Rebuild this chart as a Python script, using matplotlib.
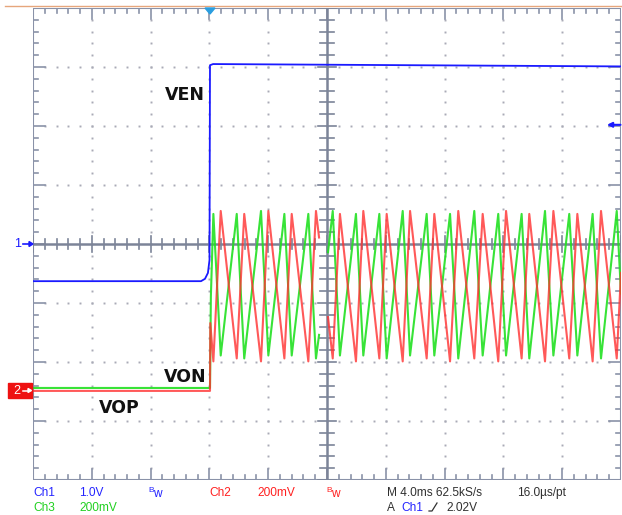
import numpy as np
import matplotlib
matplotlib.use("Agg")
import matplotlib.pyplot as plt
from matplotlib.lines import Line2D
from matplotlib.patches import Rectangle, Polygon

# ---------------- data (time in ms, trigger at 0; 4 ms/div, screen -12..28 ms) --------
# Ch1 : VEN  (1.0 V/div, ground at screen centre)
ven_t = [-12.0, -0.57, -0.30, -0.10, 0.007, 0.04, 0.25, 14.0, 28.0]
ven_v = [-0.63, -0.63, -0.59, -0.49, -0.27, 3.03, 3.05, 3.03, 3.01]

# Ch2 (red, VOP) and Ch3 (green, VON), 200 mV/div, ground marker "2"
# start-up segment
red_start_t = [-12.0, 0.04, 0.06]
red_start_v = [0.0, 0.0, 0.23]
green_start_t = [-12.0, 0.04, 0.10]
green_start_v = [0.01, 0.01, 0.32]

# turning-point times
red_peak_t = [0.77, 2.37, 4.01, 5.60, 7.25, 8.88, 10.47, 12.06, 13.65, 15.30,
              16.93, 18.59, 20.18, 21.76, 23.40, 25.03, 26.64]
green_peak_t = [0.27, 1.86, 3.51, 5.10, 6.73, 8.39, 9.97, 11.56, 13.15, 14.78,
                16.37, 18.02, 19.65, 21.24, 22.83, 24.48, 26.07, 27.71]

# levels at those turning points (V)
red_high = [0.61, 0.60, 0.61, 0.60, 0.61, 0.60, 0.61, 0.60, 0.61, 0.60,
            0.61, 0.60, 0.61, 0.60, 0.61, 0.60, 0.61]
red_low = [0.10, 0.11, 0.10, 0.11, 0.10, 0.11, 0.10, 0.11, 0.10, 0.11,
           0.10, 0.11, 0.10, 0.11, 0.10, 0.11, 0.10, 0.11]
green_high = [0.60, 0.60, 0.61, 0.60, 0.60, 0.61, 0.60, 0.60, 0.61, 0.60,
              0.60, 0.61, 0.60, 0.60, 0.61, 0.60, 0.60, 0.61]
green_low = [0.12, 0.11, 0.12, 0.12, 0.11, 0.12, 0.12, 0.11, 0.12, 0.12,
             0.11, 0.12, 0.12, 0.11, 0.12, 0.12, 0.11]
red_end = (28.0, 0.40)
green_end = (28.0, 0.33)

# display gap in the record near screen centre (ms) and trace levels at its edges (V)
gap_t = [7.46, 8.07]
red_gap_v = [0.52, 0.25]
green_gap_v = [0.19, 0.47]

TRIG_LEVEL = 2.02          # V on Ch1
CH1_SCALE = 1.0            # V/div
CH2_SCALE = 0.2
CH3_SCALE = 0.2
CH2_OFFSET = -2.49         # div
CH3_OFFSET = -2.49

bottom_line1 = [("Ch1", 33, "#2424ff"), ("1.0V", 79, "#2424ff"),
                ("Ch2", 209, "#ff2020"), ("200mV", 257, "#ff2020"),
                ("M 4.0ms 62.5kS/s", 387, "#303030"), ("16.0\u00b5s/pt", 517, "#303030")]
bottom_line2 = [("Ch3", 33, "#20d020"), ("200mV", 79, "#20d020"),
                ("A", 387, "#303030"), ("Ch1", 401, "#2424ff"), ("2.02V", 446, "#303030")]

# ---------------- build series -------------------------------------------------------
red_t = list(red_start_t)
red_v = list(red_start_v)
green_t = list(green_start_t)
green_v = list(green_start_v)
for i in range(len(green_peak_t)):
    red_t.append(green_peak_t[i]); red_v.append(red_low[i])
    green_t.append(green_peak_t[i]); green_v.append(green_high[i])
    if i < len(red_peak_t):
        red_t.append(red_peak_t[i]); red_v.append(red_high[i])
        green_t.append(red_peak_t[i]); green_v.append(green_low[i])
red_t.append(red_end[0]); red_v.append(red_end[1])
green_t.append(green_end[0]); green_v.append(green_end[1])


def with_gap(ts, vs, gv):
    out_t, out_v = [], []
    inserted = False
    for t, v in zip(ts, vs):
        if not inserted and t > gap_t[0]:
            out_t += [gap_t[0], np.nan, gap_t[1]]
            out_v += [gv[0], np.nan, gv[1]]
            inserted = True
        out_t.append(t); out_v.append(v)
    return np.array(out_t), np.array(out_v)


red_t, red_v = with_gap(red_t, red_v, red_gap_v)
green_t, green_v = with_gap(green_t, green_v, green_gap_v)

red_div = red_v / CH2_SCALE + CH2_OFFSET
green_div = green_v / CH3_SCALE + CH3_OFFSET
ven_div = np.array(ven_v) / CH1_SCALE

# ---------------- figure -------------------------------------------------------------
W, H = 622, 515
fig = plt.figure(figsize=(W / 100, H / 100), dpi=100)
fig.patch.set_facecolor("white")
L, R, T, B = 33, 621, 8, 480
ax = fig.add_axes([L / W, (H - B) / H, (R - L) / W, (B - T) / H])
ax.set_xlim(-12, 28)
ax.set_ylim(-4, 4)
ax.axis("off")

pxx = 40.0 / (R - L)     # ms per pixel
pxy = 8.0 / (B - T)      # div per pixel

grid_col = "#8a92a8"
dot_col = "#a9aab6"

# dotted graticule
minor_x = np.arange(-12, 28.001, 0.8)
minor_y = np.arange(-4, 4.001, 0.2)
for k in range(1, 10):
    if k == 5:
        continue
    xg = -12 + 4 * k
    ys = minor_y[(minor_y > -3.95) & (minor_y < 3.95)]
    ax.plot(np.full_like(ys, xg), ys, ls="none", marker="s", ms=1.4,
            mec="none", mfc=dot_col, zorder=1)
for k in range(-3, 4):
    if k == 0:
        continue
    xs = minor_x[(minor_x > -11.9) & (minor_x < 27.9)]
    ax.plot(xs, np.full_like(xs, k), ls="none", marker="s", ms=1.4,
            mec="none", mfc=dot_col, zorder=1)

# border
ax.plot([-12, 28, 28, -12, -12], [-4, -4, 4, 4, -4], color=grid_col, lw=1.5,
        zorder=2, solid_joinstyle="miter")
# border ticks
for xv in minor_x:
    major = abs((xv + 12) / 4 - round((xv + 12) / 4)) < 1e-6
    ln = (11 if major else 5) * pxy
    ax.plot([xv, xv], [4, 4 - ln], color=grid_col, lw=1.2, zorder=2)
    ax.plot([xv, xv], [-4, -4 + ln], color=grid_col, lw=1.2, zorder=2)
for yv in minor_y:
    major = abs(yv - round(yv)) < 1e-6
    ln = (12 if major else 5) * pxx
    ax.plot([-12, -12 + ln], [yv, yv], color=grid_col, lw=1.2, zorder=2)
    ax.plot([28, 28 - ln], [yv, yv], color=grid_col, lw=1.2, zorder=2)

# centre cross-hair
cross_col = "#7c8498"
ax.plot([-12, 28], [0, 0], color=cross_col, lw=1.8, zorder=2)
ax.plot([8, 8], [-4, 4], color=cross_col, lw=1.8, zorder=2)
for xv in minor_x:
    major = abs((xv + 12) / 4 - round((xv + 12) / 4)) < 1e-6
    ln = (8 if major else 5) * pxy
    ax.plot([xv, xv], [-ln, ln], color=cross_col, lw=1.2, zorder=2)
for yv in minor_y:
    major = abs(yv - round(yv)) < 1e-6
    ln = (9 if major else 7) * pxx
    ax.plot([8 - ln, 8 + ln], [yv, yv], color=cross_col, lw=1.2, zorder=2)

# traces
ax.plot(green_t, green_div, color="#22e022", lw=1.5, zorder=4, alpha=0.9)
ax.plot(red_t, red_div, color="#ff3030", lw=1.5, zorder=5, alpha=0.8)
ax.plot(ven_t, ven_div, color="#1a1aff", lw=1.3, zorder=6)

# labels
ax.text(-1.65, (244 - 95) / 59.0, "VEN", fontsize=12.5, fontweight="bold",
        ha="center", va="center", color="#111111", zorder=7)
ax.text(-1.65, (244 - 377) / 59.0, "VON", fontsize=12.5, fontweight="bold",
        ha="center", va="center", color="#111111", zorder=7)
ax.text(-6.10, (244 - 408) / 59.0, "VOP", fontsize=12.5, fontweight="bold",
        ha="center", va="center", color="#111111", zorder=7)

# trigger level arrow on the right
ax.annotate("", xy=(28 - 14 * pxx, TRIG_LEVEL / CH1_SCALE),
            xytext=(28 - 0.5 * pxx, TRIG_LEVEL / CH1_SCALE),
            arrowprops=dict(arrowstyle="-|>", color="#1a1aff", lw=1.5,
                            mutation_scale=7, shrinkA=0, shrinkB=0), zorder=7)

# ---------------- screen furniture in pixel coordinates ------------------------------
def fx(x):
    return x / W


def fy(y):
    return 1 - y / H


fig.add_artist(Line2D([fx(5), fx(622)], [fy(6), fy(6)], color="#e6a67c", lw=1.0))
# trigger position marker
fig.add_artist(Polygon([[fx(205), fy(8)], [fx(215), fy(8)], [fx(210), fy(14)]],
                       closed=True, color="#2a9ee0", zorder=10))
# channel 1 ground marker
fig.text(fx(17.5), fy(244), "1", color="#1a1aff", fontsize=9, ha="center", va="center",
         family="Liberation Sans")
fig.add_artist(Line2D([fx(23), fx(30)], [fy(244), fy(244)], color="#1a1aff", lw=1.2))
fig.add_artist(Polygon([[fx(29), fy(241.5)], [fx(33), fy(244)], [fx(29), fy(246.5)]],
                       closed=True, color="#1a1aff"))
# channel 2 ground marker
fig.add_artist(Rectangle((fx(8), fy(398)), fx(32) - fx(8), fy(383) - fy(398),
                         color="#ee1111", zorder=10))
fig.text(fx(17), fy(390.5), "2", color="white", fontsize=9, ha="center", va="center",
         family="Liberation Sans", zorder=11)
fig.add_artist(Line2D([fx(22.5), fx(29)], [fy(390.5), fy(390.5)], color="white",
                      lw=1.1, zorder=11))
fig.add_artist(Polygon([[fx(28), fy(388.5)], [fx(31.5), fy(390.5)], [fx(28), fy(392.5)]],
                       closed=True, color="white", zorder=11))

# bottom status text
for s, x, c in bottom_line1:
    fig.text(fx(x), fy(493), s, color=c, fontsize=8.6, ha="left", va="center",
             family="Liberation Sans")
for s, x, c in bottom_line2:
    fig.text(fx(x), fy(508), s, color=c, fontsize=8.6, ha="left", va="center",
             family="Liberation Sans")
for x, c in [(148, "#2424ff"), (326, "#ff2020")]:
    fig.text(fx(x), fy(490), "B", color=c, fontsize=6, ha="left", va="center",
             family="Liberation Sans")
    fig.text(fx(x + 5), fy(494), "w", color=c, fontsize=8.6, ha="left", va="center",
             family="Liberation Sans")
# rising-edge symbol
fig.add_artist(Line2D([fx(429), fx(432), fx(437)], [fy(511), fy(511), fy(503)],
                      color="#303030", lw=0.9))

fig.savefig("out.png", dpi=100, facecolor="white")
